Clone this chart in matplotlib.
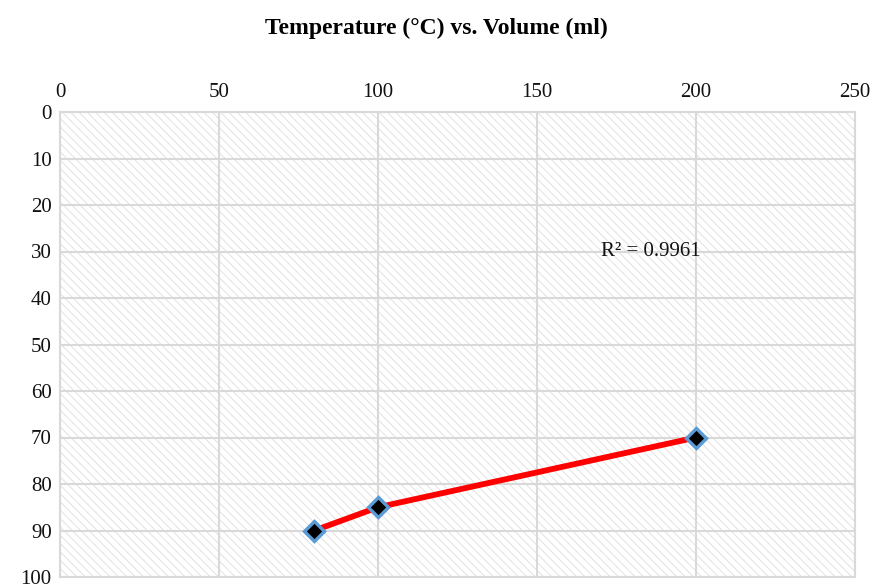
import matplotlib
matplotlib.use("Agg")
import matplotlib.pyplot as plt
import numpy as np

# Data
temperature = [80, 100, 200]
volume = [90, 85, 70]
x_ticks = [0, 50, 100, 150, 200, 250]
y_ticks = [0, 10, 20, 30, 40, 50, 60, 70, 80, 90, 100]
title = "Temperature (°C) vs. Volume (ml)"
r2_label = "R² = 0.9961"

plt.rcParams['font.family'] = ['Liberation Serif', 'DejaVu Serif']
plt.rcParams['hatch.linewidth'] = 0.7

fig = plt.figure(figsize=(8.72, 5.88), dpi=100)
ax = fig.add_axes([60/872, 1 - 577/588, 795/872, 465/588])

ax.set_xlim(0, 250)
ax.set_ylim(100, 0)

# hatched background
ax.add_patch(plt.Rectangle((0, 0), 1, 1, transform=ax.transAxes,
                           facecolor='white', edgecolor='#e2e2e2', linewidth=0,
                           hatch='\\\\\\\\', zorder=0))

ax.set_xticks(x_ticks)
ax.set_yticks(y_ticks)
ax.xaxis.tick_top()
ax.tick_params(axis='both', length=0, labelsize=15, colors='#111111', pad=7)
ax.tick_params(axis='y', pad=6)
ax.grid(True, color='#d9d9d9', linewidth=1.5, zorder=1)
ax.set_axisbelow(True)
for s in ax.spines.values():
    s.set_color('#d9d9d9')
    s.set_linewidth(1.5)

ax.plot(temperature, volume, color='red', linewidth=4.2, zorder=3,
        solid_capstyle='round')
ax.plot(temperature, volume, linestyle='none', marker='D', markersize=10.5,
        markerfacecolor='black', markeredgecolor='#5b9bd5', markeredgewidth=2.4,
        zorder=4)

ax.text(170, 30, r2_label, fontsize=15, ha='left', va='center', color='#111111', zorder=5)

fig.text(0.5, 1 - 28/588, title, ha='center', va='center', fontsize=17,
         fontweight='bold')

fig.savefig("out.png", dpi=100)
